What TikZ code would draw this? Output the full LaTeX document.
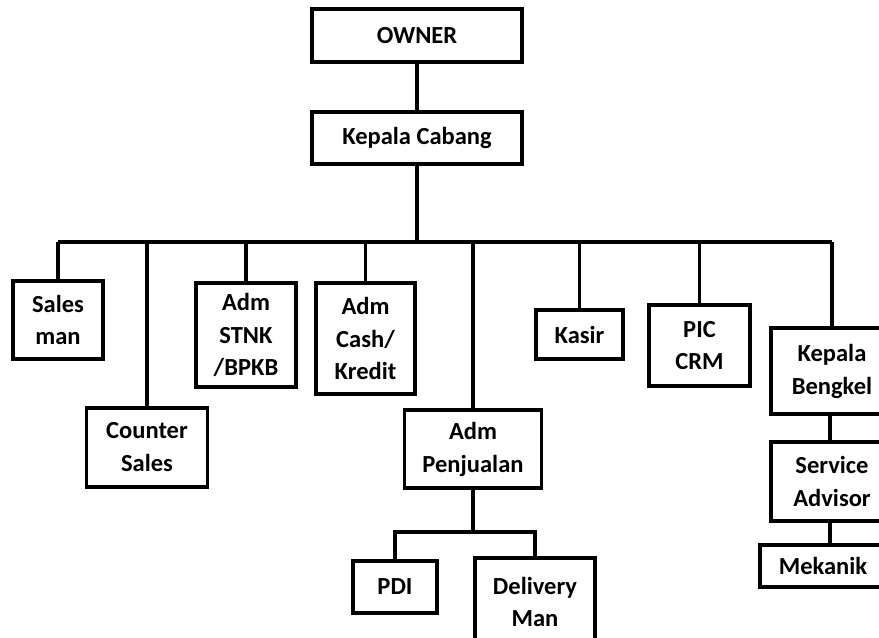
\documentclass[tikz,border=0pt]{standalone}
\usepackage{fontspec}
\setmainfont{Carlito}
\tikzset{
  unit/.style={draw, line width=2.3pt, fill=white, align=center, inner sep=0pt,
    font=\fontsize{18.4}{24.7}\selectfont\bfseries},
  wh/.style 2 args={minimum width=#1*0.75pt, minimum height=#2*0.75pt},
  link/.style={line width=2.3pt}
}
\begin{document}
\begin{tikzpicture}[x=0.75pt,y=-0.75pt]
      % page frame, pixel units with y pointing down
      \useasboundingbox[fill=white] (0,0) rectangle (879,637);
      \clip (0,0) rectangle (879,637);
      % top of the chart
      \node[unit, wh={210}{53}] (owner) at (417,35.5) {OWNER};
      \node[unit, wh={210}{52}] (cabang) at (417,138) {Kepala Cabang};
      % staff under the branch head
      \node[unit, wh={90}{78}] (sales) at (58,320) {Sales\\man};
      \node[unit, wh={121}{79}] (counter) at (147,447.5) {Counter\\Sales};
      \node[unit, wh={100}{104}] (stnk) at (246,335) {Adm\\STNK\\/BPKB};
      \node[unit, wh={99}{111}] (cash) at (365.5,338.5) {Adm\\Cash/\\Kredit};
      \node[unit, wh={137}{78}] (penjualan) at (473,449) {Adm\\Penjualan};
      \node[unit, wh={87}{49}] (kasir) at (579.5,334.5) {Kasir};
      \node[unit, wh={101}{81}] (crm) at (699.5,345.5) {PIC\\CRM};
      \node[unit, wh={122}{86}] (bengkel) at (832,371) {Kepala\\Bengkel};
      % workshop line
      \node[unit, wh={122}{79}] (advisor) at (832,481.5) {Service\\Advisor};
      \node[unit, wh={126}{42}] (mekanik) at (823,566) {Mekanik};
      % sales admin line
      \node[unit, wh={84}{52}] (pdi) at (395,587) {PDI};
      \node[unit, wh={120}{88}] (delivery) at (535,602) {Delivery\\Man};
      \coordinate (bus) at (416,242);
      \coordinate (subbus) at (473,532);
      \draw[link] (owner) -- (cabang);
      \draw[link] (cabang.south) -- (cabang.south |- bus);
      \draw[link] (sales.north |- bus) -- (bengkel.north |- bus);
      \foreach \n in {sales,counter,stnk,cash,penjualan,kasir,crm,bengkel}
        \draw[link] (\n.north |- bus) -- (\n.north);
      \draw[link] (penjualan.south) -- (subbus);
      \draw[link] (pdi.north) |- (subbus) -| (delivery.north);
      \draw[link] ([xshift=-1.5pt]bengkel.south) -- ([xshift=-1.5pt]advisor.north);
      \draw[link] ([xshift=-1.5pt]advisor.south) -- ([xshift=-1.5pt]advisor.south |- mekanik.north);
\end{tikzpicture}
\end{document}
